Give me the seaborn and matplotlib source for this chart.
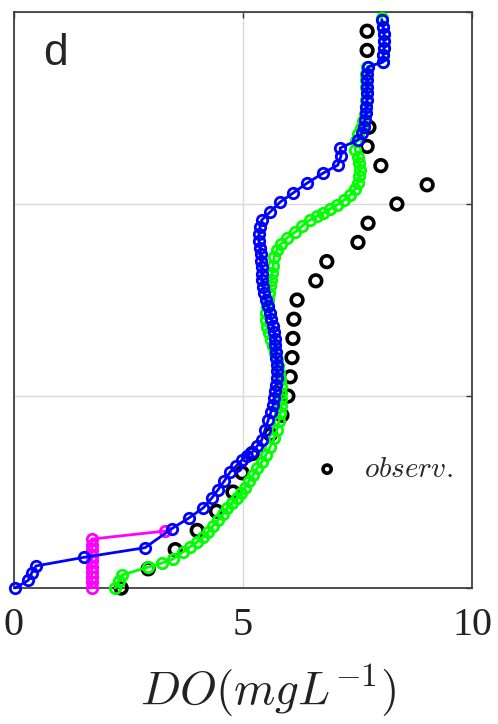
import matplotlib
matplotlib.use('Agg')
import matplotlib.pyplot as plt
import seaborn as sns
import pandas as pd

# observed profile
obs_do = [2.34, 2.93, 3.52, 4.00, 4.42, 4.78, 4.98, 5.20, 5.60, 5.85,
          5.98, 6.03, 6.07, 6.09, 6.11, 6.18, 6.59, 6.83, 7.51, 7.73,
          8.36, 9.02, 8.01, 7.71, 7.75, 7.71, 7.71]
obs_depth = [0.0, 0.1, 0.2, 0.3, 0.4, 0.5, 0.6, 0.7, 0.8, 0.9,
             1.0, 1.1, 1.2, 1.3, 1.4, 1.5, 1.6, 1.7, 1.8, 1.9,
             2.0, 2.1, 2.2, 2.3, 2.4, 2.8, 2.9]

# model run (blue)
blue_do = [0.02, 0.31, 0.39, 0.48, 1.53, 2.86, 3.45, 3.82, 4.13, 4.32,
           4.45, 4.59, 4.72, 4.85, 4.98, 5.09, 5.20, 5.31, 5.41, 5.48,
           5.55, 5.61, 5.66, 5.68, 5.70, 5.72, 5.74, 5.74, 5.74, 5.72,
           5.72, 5.70, 5.70, 5.68, 5.66, 5.61, 5.59, 5.55, 5.50, 5.46,
           5.44, 5.41, 5.41, 5.41, 5.39, 5.39, 5.37, 5.35, 5.35, 5.37,
           5.41, 5.59, 5.81, 6.09, 6.40, 6.75, 7.07, 7.14, 7.12, 7.51,
           7.60, 7.64, 7.66, 7.69, 7.69, 7.71, 7.71, 7.71, 7.71, 7.71,
           7.73, 8.06, 8.06, 8.08, 8.08, 8.08, 8.06, 8.03]
blue_depth = [0.0, 0.04, 0.08, 0.115, 0.16, 0.21, 0.31, 0.365, 0.417, 0.469,
              0.51, 0.557, 0.604, 0.635, 0.667, 0.688, 0.708, 0.74, 0.771, 0.823,
              0.875, 0.917, 0.953, 0.99, 1.026, 1.057, 1.094, 1.13, 1.161, 1.198,
              1.229, 1.266, 1.297, 1.333, 1.365, 1.401, 1.432, 1.469, 1.5, 1.536,
              1.568, 1.604, 1.635, 1.672, 1.703, 1.74, 1.771, 1.807, 1.844, 1.88,
              1.917, 1.958, 2.01, 2.057, 2.109, 2.161, 2.203, 2.25, 2.292, 2.333,
              2.37, 2.401, 2.438, 2.474, 2.505, 2.542, 2.578, 2.609, 2.646, 2.677,
              2.714, 2.74, 2.776, 2.812, 2.849, 2.885, 2.922, 2.958]

# model run (green)
green_do = [2.21, 2.29, 2.36, 2.93, 3.23, 3.47, 3.69, 3.84, 4.00, 4.13,
            4.24, 4.34, 4.45, 4.56, 4.65, 4.76, 4.87, 4.96, 5.04, 5.13,
            5.22, 5.31, 5.41, 5.50, 5.59, 5.68, 5.74, 5.79, 5.81, 5.83,
            5.83, 5.83, 5.83, 5.81, 5.79, 5.76, 5.74, 5.70, 5.66, 5.61,
            5.57, 5.52, 5.50, 5.50, 5.52, 5.55, 5.57, 5.59, 5.61, 5.63,
            5.66, 5.68, 5.74, 5.83, 5.96, 6.14, 6.29, 6.46, 6.62, 6.75,
            6.90, 7.05, 7.21, 7.34, 7.45, 7.51, 7.53, 7.55, 7.53, 7.51,
            7.45, 7.47, 7.51, 7.58, 7.62, 7.66, 7.69, 7.69, 7.71, 7.69,
            7.69, 7.69, 7.71, 8.06, 8.06, 8.08, 8.08, 8.08, 8.06, 8.03]
green_depth = [0.0, 0.036, 0.068, 0.109, 0.13, 0.151, 0.1875, 0.214, 0.24, 0.266,
               0.292, 0.323, 0.354, 0.385, 0.417, 0.443, 0.469, 0.495, 0.521, 0.557,
               0.589, 0.625, 0.656, 0.693, 0.734, 0.781, 0.823, 0.87, 0.911, 0.948,
               0.984, 1.016, 1.052, 1.083, 1.12, 1.156, 1.1875, 1.224, 1.26, 1.292,
               1.328, 1.359, 1.396, 1.432, 1.469, 1.5, 1.536, 1.573, 1.604, 1.641,
               1.677, 1.724, 1.76, 1.792, 1.823, 1.854, 1.885, 1.917, 1.9375, 1.953,
               1.974, 1.995, 2.021, 2.047, 2.078, 2.109, 2.146, 2.177, 2.214, 2.245,
               2.281, 2.328, 2.365, 2.396, 2.432, 2.469, 2.505, 2.542, 2.578, 2.609,
               2.646, 2.677, 2.714, 2.74, 2.776, 2.812, 2.849, 2.885, 2.922, 2.969]

# model run (magenta)
mag_do = [1.70, 1.70, 1.70, 1.70, 1.70, 1.70, 1.70, 1.70, 1.70, 1.70, 3.30]
mag_depth = [0.0, 0.031, 0.057, 0.083, 0.109, 0.141, 0.167, 0.198, 0.224, 0.255, 0.297]

sns.set_style('white')
plt.rcParams['mathtext.fontset'] = 'cm'

fig = plt.figure(figsize=(4.98, 7.24), dpi=100)
ax = fig.add_axes([0.0281, 0.1878, 0.9197, 0.7956])

sns.scatterplot(x=obs_do, y=obs_depth, ax=ax, marker='o', s=70,
                facecolor='none', edgecolor='black', linewidth=2.6,
                label=r'$observ.$', zorder=3, clip_on=False)

line_kw = dict(sort=False, estimator=None, marker='o', markersize=7.5,
               markerfacecolor='none', markeredgewidth=2.0, linewidth=2.0,
               ax=ax, clip_on=False, legend=False)
sns.lineplot(x=mag_do, y=mag_depth, color='#ff00ff', markeredgecolor='#ff00ff',
             zorder=4, **line_kw)
sns.lineplot(x=green_do, y=green_depth, color='#00ff00', markeredgecolor='#00ff00',
             zorder=5, **line_kw)
sns.lineplot(x=blue_do, y=blue_depth, color='#0000ff', markeredgecolor='#0000ff',
             zorder=6, **line_kw)

ax.set_xlim(0, 10)
ax.set_ylim(0, 3)
ax.set_xticks([0, 5, 10])
ax.set_yticks([0, 1, 2, 3])
ax.set_yticklabels([])
ax.grid(True, color='#dadada', linewidth=1)
ax.tick_params(direction='in', length=4, width=1, top=True, right=True,
               colors='#333333', labelcolor='#222222', labelsize=29, pad=14)
for lab in ax.get_xticklabels():
    lab.set_fontfamily('Liberation Serif')
for sp in ax.spines.values():
    sp.set_color('#404040')
    sp.set_linewidth(1.3)

ax.set_xlabel(r'$DO(mgL^{-1})$', fontsize=34, color='#222222')
ax.xaxis.set_label_coords(0.555, -0.13)
ax.set_ylabel('')

ax.legend(loc='center left', bbox_to_anchor=(0.620, 0.207), frameon=False,
          fontsize=21, handletextpad=0.25, borderaxespad=0, borderpad=0,
          markerscale=0.7)

fig.text(43 / 498, 1 - 65 / 724, 'd', fontsize=32, family='Liberation Sans',
         va='baseline', ha='left')

fig.savefig('out.png', dpi=100)
